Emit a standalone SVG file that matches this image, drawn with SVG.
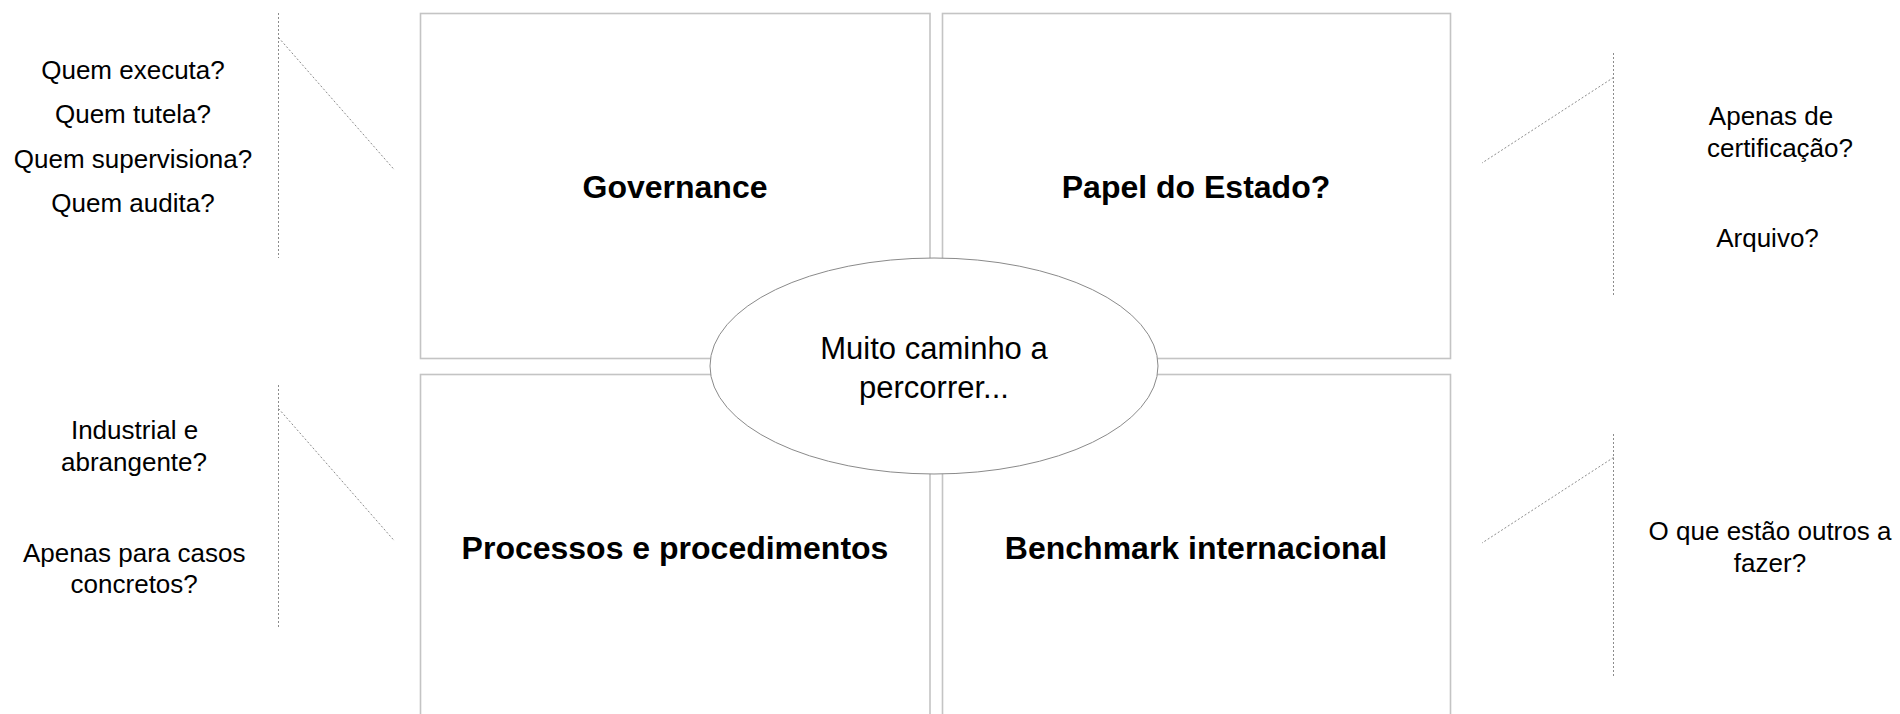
<svg xmlns="http://www.w3.org/2000/svg" width="1900" height="714" viewBox="0 0 1900 714">
<style>
.box{fill:#ffffff;stroke:#c4c4c4;stroke-width:1.6}
.oval{fill:#ffffff;stroke:#8a8a8a;stroke-width:1}
.dash{fill:none;stroke:#8c8c8c;stroke-width:1;stroke-dasharray:2 2}
.title{font-family:"Liberation Sans",Arial,sans-serif;font-weight:bold;font-size:32px;fill:#000;text-anchor:middle}
.q{font-family:"Liberation Sans",Arial,sans-serif;font-size:26px;fill:#000;text-anchor:middle}
.c{font-family:"Liberation Sans",Arial,sans-serif;font-size:31px;fill:#000;text-anchor:middle}
</style>
<rect width="1900" height="714" fill="#ffffff"/>
<g id="governance">
<rect class="box" x="420.5" y="13.5" width="509.5" height="345"/>
<text class="title" x="675" y="198">Governance</text>
</g>
<g id="papel-estado">
<rect class="box" x="942.5" y="13.5" width="508" height="345"/>
<text class="title" x="1196" y="198">Papel do Estado?</text>
</g>
<g id="processos">
<rect class="box" x="420.5" y="374.5" width="509.5" height="345"/>
<text class="title" x="675" y="559">Processos e procedimentos</text>
</g>
<g id="benchmark">
<rect class="box" x="942.5" y="374.5" width="508" height="345"/>
<text class="title" x="1196" y="559">Benchmark internacional</text>
</g>
<g id="centro">
<ellipse class="oval" cx="934" cy="366" rx="224" ry="108"/>
<text class="c" x="934" y="359">Muito caminho a</text>
<text class="c" x="934" y="398">percorrer...</text>
</g>
<g id="connectors">
<path class="dash" d="M278.5 13 V258 M278.5 37.5 L394.5 170"/>
<path class="dash" d="M278.5 385 V628 M278.5 408.5 L394.5 541"/>
<path class="dash" d="M1613.5 53 V297 M1613.5 77.5 L1482 163"/>
<path class="dash" d="M1613.5 434 V677 M1613.5 457.5 L1482 543"/>
</g>
<g id="notas-governance">
<text class="q" x="133" y="79">Quem executa?</text>
<text class="q" x="133" y="123">Quem tutela?</text>
<text class="q" x="133" y="167.5">Quem supervisiona?</text>
<text class="q" x="133" y="211.5">Quem audita?</text>
</g>
<g id="notas-processos">
<text class="q" x="134.5" y="439">Industrial e</text>
<text class="q" x="134" y="470.5">abrangente?</text>
<text class="q" x="134.2" y="561.5">Apenas para casos</text>
<text class="q" x="134.2" y="592.5">concretos?</text>
</g>
<g id="notas-estado">
<text class="q" x="1771" y="125">Apenas de</text>
<text class="q" x="1780" y="156.5">certificação?</text>
<text class="q" x="1767.5" y="246.5">Arquivo?</text>
</g>
<g id="notas-benchmark">
<text class="q" x="1770" y="540">O que estão outros a</text>
<text class="q" x="1770" y="571.5">fazer?</text>
</g>
</svg>
